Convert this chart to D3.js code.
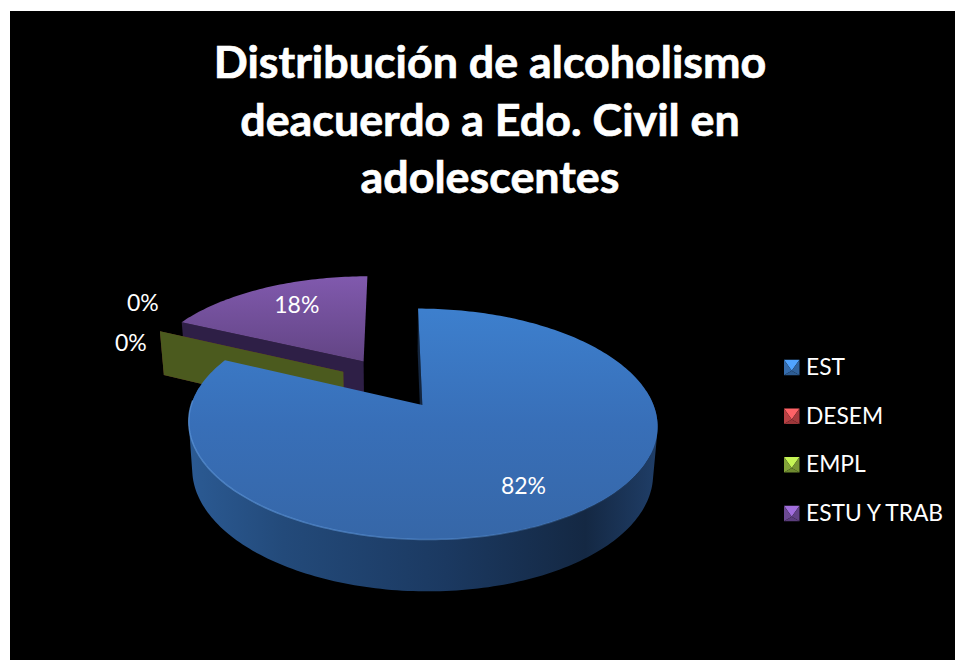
<!DOCTYPE html>
<html>
<head>
<meta charset="utf-8">
<script src="https://cdn.jsdelivr.net/npm/d3@7/dist/d3.min.js"></script>
<style>
  html, body { margin: 0; padding: 0; background: #fff; }
  svg { display: block; }
  text { font-family: Lato, "Open Sans", sans-serif; fill: #fff; }
</style>
</head>
<body>
<svg id="chart" width="955" height="660"></svg>
<script>
const titleLines = ["Distribución de alcoholismo", "deacuerdo a Edo. Civil en", "adolescentes"];
const categories = ["EST", "DESEM", "EMPL", "ESTU Y TRAB"];
const shares = [82, 0, 0, 18];
const baseColors = ["#3a76bd", "#c9474a", "#8fb23e", "#7550a0"];

const width = 955, height = 660;
const svg = d3.select("#chart");
const defs = svg.append("defs");

// Page: white sliver on the top and left, black canvas everywhere else
svg.append("rect").attr("width", width).attr("height", height).attr("fill", "#fff");
svg.append("rect").attr("x", 10).attr("y", 11).attr("width", width - 10).attr("height", height - 11).attr("fill", "#000");

svg.append("g").selectAll("text").data(titleLines).join("text")
  .attr("x", 490)
  .attr("y", (d, i) => 78 + i * 57.5)
  .attr("text-anchor", "middle")
  .attr("font-size", 44.8)
  .attr("font-weight", 700)
  .attr("stroke", "#fff")
  .attr("stroke-width", 0.7)
  .text(d => d);

// Perspective view of the pie's disc; u runs right, t runs toward the viewer
const view = { cx: 392, cy: 382.5, rx: 223.5, ry: 105, k: 0.16, depth: 46, depthK: 0.093, baseScale: 0.983, explode: 0.245 };

function topPoint(u, t) {
  const w = 1 / (1 - view.k * t);
  return [view.cx + view.rx * u * w, view.cy + view.ry * t * w];
}
function basePoint(u, t) {
  const [x, y] = topPoint(u, t);
  return [view.cx + (x - view.cx) * view.baseScale, y + view.depth / (1 - view.depthK * t)];
}

const slices = d3.pie().sort(null).startAngle(0).endAngle(2 * Math.PI)
  .value(d => d)(shares)
  .map((s, i) => {
    const mid = (s.startAngle + s.endAngle) / 2;
    return {
      ...s,
      index: i,
      mid,
      ou: Math.sin(mid) * view.explode,
      ot: -Math.cos(mid) * view.explode
    };
  });

function rimSamples(s) {
  const n = Math.max(1, Math.ceil((s.endAngle - s.startAngle) / 0.02));
  return d3.range(n + 1).map(i => {
    const a = s.startAngle + (s.endAngle - s.startAngle) * i / n;
    return [s.ou + Math.sin(a), s.ot - Math.cos(a)];
  });
}

const line = d3.line().curve(d3.curveLinear);
const closed = pts => line(pts) + "Z";
// Same winding for every quad, so their union fills without holes
const wound = pts => d3.polygonArea(pts) < 0 ? pts.slice().reverse() : pts;

function gradient(id, horizontal, from, to, stops) {
  const g = defs.append("linearGradient").attr("id", id).attr("gradientUnits", "userSpaceOnUse");
  if (horizontal) g.attr("x1", from).attr("x2", to).attr("y1", 0).attr("y2", 0);
  else g.attr("x1", 0).attr("x2", 0).attr("y1", from).attr("y2", to);
  stops.forEach(([o, c, a]) => g.append("stop").attr("offset", o).attr("stop-color", c).attr("stop-opacity", a === undefined ? 1 : a));
  return `url(#${id})`;
}

const faceFill = [
  gradient("face0", false, 311, 537, [[0, "#3d7fcd"], [0.5, "#386fb8"], [1, "#3667a8"]]),
  "#c0504d",
  "#9bbb59",
  gradient("face3", false, 277, 360, [[0, "#8059ad"], [1, "#634585"]])
];
const rimFill = [
  gradient("rim0", true, 190, 655, [[0, "#2b5a93"], [0.2, "#234a7a"], [0.55, "#1b3961"], [0.85, "#142843"], [1, "#1f3d66"]]),
  "#5e2725", "#4b5a1e", "#2e1f46"
];
const wallFill = ["#14263f", "#6b2b29", "#4b5a1e", "#2e1f46"];

const pie = svg.append("g");

function drawSlice(s) {
  const rim = rimSamples(s);
  const apex = [s.ou, s.ot];
  const g = pie.append("g");
  g.append("path")
    .attr("d", closed([topPoint(...apex), topPoint(...rim[0]), basePoint(...rim[0]), basePoint(...apex)]))
    .attr("fill", wallFill[s.index]);
  if (s.value > 0) {
    // Only the part of the rim that faces the viewer gets a side band
    const bands = d3.pairs(rim)
      .filter(([a]) => a[1] - s.ot > -0.15)
      .map(([a, b]) => closed(wound([topPoint(...a), topPoint(...b), basePoint(...b), basePoint(...a)])));
    g.append("path").attr("d", bands.join("")).attr("fill", rimFill[s.index]);
    g.append("path")
      .attr("d", closed([topPoint(...apex), ...rim.map(p => topPoint(...p))]))
      .attr("fill", faceFill[s.index]);
  }
}

// Back to front: the purple wedge, the two empty wedges, then the large wedge
[3, 1, 2, 0].forEach(i => drawSlice(slices[i]));

// Soft bevel along the front rim of the large wedge, fading to the right
pie.append("path")
  .attr("d", line(rimSamples(slices[0]).filter(p => p[1] > 0.15).map(p => topPoint(...p))))
  .attr("fill", "none")
  .attr("stroke", gradient("bevel", true, 188, 640, [[0, "#5a93d8", 0.75], [0.6, "#5a93d8", 0.55], [1, "#5a93d8", 0]]))
  .attr("stroke-width", 1.5);

// Percentages sit along each wedge's mid-angle, outside the rim for empty wedges
const labelReach = 0.73;
const labelNudge = { 0: [-3, 3], 1: [-17, -29], 2: [-29, 11], 3: [8, -2] };
svg.append("g").selectAll("text").data(slices).join("text")
  .attr("font-size", 23)
  .attr("text-anchor", "middle")
  .attr("dominant-baseline", "central")
  .attr("transform", s => {
    const reach = s.value > 0 ? labelReach : 1;
    const p = topPoint(s.ou + Math.sin(s.mid) * reach, s.ot - Math.cos(s.mid) * reach);
    const [dx, dy] = labelNudge[s.index];
    return `translate(${p[0] + dx},${p[1] + dy})`;
  })
  .text(s => d3.format(".0f")(s.value) + "%");

// Legend with bevelled square keys
const rowY = d3.scalePoint().domain(categories).range([367.5, 513.5]);
const key = 15.5;
const legend = svg.append("g").selectAll("g").data(categories).join("g")
  .attr("transform", d => `translate(784,${rowY(d)})`);
legend.each(function (d, i) {
  const g = d3.select(this);
  const base = d3.color(baseColors[i]);
  const h = key / 2, c = h * 0.42;
  const triangles = [
    [[0, -h], [key, -h], [h, c], d3.rgb(base).brighter(0.9)],
    [[0, -h], [0, h], [h, c], d3.rgb(base).darker(0.25)],
    [[key, -h], [key, h], [h, c], d3.rgb(base).darker(0.5)],
    [[0, h], [key, h], [h, c], d3.rgb(base).darker(0.7)]
  ];
  triangles.forEach(t => g.append("path").attr("d", closed(t.slice(0, 3))).attr("fill", t[3]));
  g.append("text")
    .attr("x", 22)
    .attr("y", -1.5)
    .attr("dominant-baseline", "central")
    .attr("font-size", 22.8)
    .text(d);
});
</script>
</body>
</html>
